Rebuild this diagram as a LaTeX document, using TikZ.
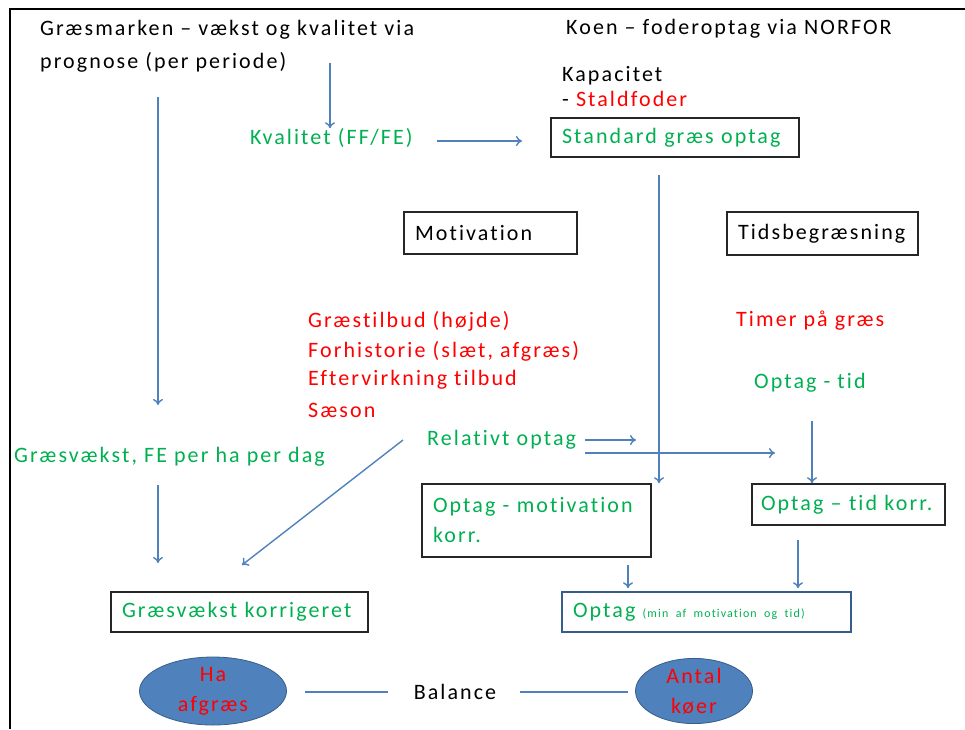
\documentclass[tikz,border=0pt]{standalone}
\usepackage{fontspec}
\setmainfont{Carlito}[LetterSpace=9.5,Ligatures=NoCommon]
\usetikzlibrary{arrows.meta,shapes.geometric}
\definecolor{gr}{HTML}{00B050}
\definecolor{rd}{HTML}{FF0000}
\definecolor{bl}{HTML}{4F81BD}
\definecolor{dbl}{HTML}{385D8A}
\begin{document}
\begin{tikzpicture}[x=1pt,y=-1pt,
  every node/.style={font=\fontsize{22}{30}\selectfont},
  txt/.style={anchor=west,inner sep=0pt},
  box/.style={draw=black!85,line width=1.6pt,inner xsep=11pt,inner ysep=0pt,align=left},
  arr/.style={draw=bl,line width=1.4pt,-{To[length=6pt,width=10pt]}},
  ln/.style={draw=bl,line width=1.4pt},
  ell/.style={ellipse,fill=bl,draw=dbl,line width=0.8pt,text=rd,align=center,inner sep=0pt}]
\useasboundingbox (0,0) rectangle (965,729);
\draw[line width=1.5pt] (10,729) -- (10,9) -- (965,9);

% titles
\node[txt] (t1) at (40,30) {Græsmarken – vækst og kvalitet via};
\node[txt] (t2) at (40,62) {prognose (per periode)};
\node[txt] (t3) at (566,29) {Koen – foderoptag via NORFOR};
\node[txt] (kap) at (562,76) {Kapacitet};
\node[txt] (stald) at (562,99) {- \textcolor{rd}{Staldfoder}};

% boxes
\node[box,text width=226pt,minimum height=39pt,text=gr] (std) at (675,137.5) {Standard græs optag};
\node[txt,text=gr] (kval) at (250,138) {Kvalitet (FF/FE)};
\node[box,text width=151pt,minimum height=42pt] (mot) at (490.5,233) {Motivation};
\node[box,text width=169pt,minimum height=43pt] (tid) at (822.5,233.5) {Tidsbegræsning};

% red list
\node[txt,text=rd] (r1) at (308,321) {Græstilbud (højde)};
\node[txt,text=rd] (r2) at (308,351) {Forhistorie (slæt, afgræs)};
\node[txt,text=rd] (r3) at (308,380) {Eftervirkning tilbud};
\node[txt,text=rd] (r4) at (308,410) {Sæson};
\node[txt,text=rd] (timer) at (736,321) {Timer på græs};
\node[txt,text=gr] (otid) at (754,383) {Optag - tid};
\node[txt,text=gr] (rel) at (427,440) {Relativt optag};
\node[txt,text=gr] (gv) at (14,457) {Græsvækst, FE per ha per dag};

\node[box,text width=207pt,minimum height=73pt,text=gr] (optm) at (536.5,520.5) {Optag - motivation\\korr.};
\node[box,inner xsep=0pt,text width=193pt,minimum height=41pt,text=gr] (optt) at (848.5,504.5) {\hspace{9pt}Optag – tid korr.};
\node[box,text width=235pt,minimum height=40pt,text=gr] (gvk) at (239.5,612) {Græsvækst korrigeret};
\node[box,draw=dbl,text width=267pt,minimum height=40pt,text=gr] (opt) at (706.5,612) {Optag {\fontsize{12}{14}\selectfont (min af motivation og tid)}};

% ellipses
\node[ell,minimum width=147pt,minimum height=68pt] (ha) at (213,691) {Ha\\afgræs};
\node[ell,minimum width=117pt,minimum height=64pt] (ant) at (694,691) {Antal\\køer};
\node[inner sep=0pt] (bal) at (455,692) {Balance};

% coordinates for free ends
\coordinate (a1) at (330,63);
\coordinate (a2s) at (437,141);
\coordinate (a2e) at (522,141);
\coordinate (a3) at (158,97);
\coordinate (a3e) at (158,405);
\coordinate (a4) at (659,175);
\coordinate (a5s) at (585,440);
\coordinate (a5e) at (636,440);
\coordinate (a6s) at (585,453);
\coordinate (a6e) at (775,453);
\coordinate (a7s) at (812,421);
\coordinate (a8s) at (403,440);
\coordinate (a8e) at (242,565);
\coordinate (a9s) at (158,485);
\coordinate (a9e) at (158,563);
\coordinate (a10s) at (628,565);
\coordinate (a11s) at (798,540);
\coordinate (b1s) at (305,692);
\coordinate (b1e) at (388,692);
\coordinate (b2s) at (520,692);
\coordinate (b2e) at (628,692);

\draw[arr] (a1) -- (a1 |- kval.north);
\draw[arr] (a2s) -- (a2e);
\draw[arr] (a3) -- (a3e);
\draw[arr] (a4) -- (a4 |- optm.north);
\draw[arr] (a5s) -- (a5e);
\draw[arr] (a6s) -- (a6e);
\draw[arr] (a7s) -- (a7s |- optt.north);
\draw[arr] (a8s) -- (a8e);
\draw[arr] (a9s) -- (a9e);
\draw[arr] (a10s) -- ([yshift=3pt]a10s |- opt.north);
\draw[arr] (a11s) -- ([yshift=3pt]a11s |- opt.north);
\draw[ln] (b1s) -- (b1e);
\draw[ln] (b2s) -- (b2e);
\end{tikzpicture}
\end{document}
